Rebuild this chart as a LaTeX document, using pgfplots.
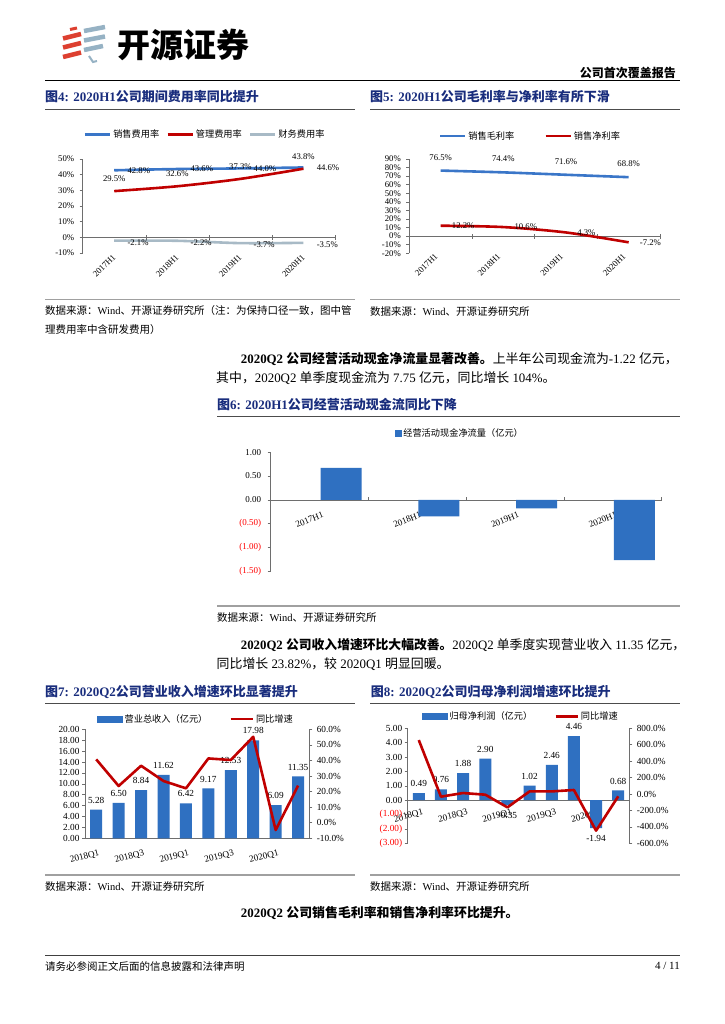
\documentclass[border=0pt]{standalone}
\usepackage{fontspec}
\setmainfont{Liberation Serif}
\newfontfamily\cjk{Noto Sans CJK SC}
\usepackage{pgfplots}
\pgfplotsset{compat=1.18}
\definecolor{navy}{RGB}{25,45,125}
\definecolor{barblue}{RGB}{47,112,193}
\definecolor{blueline}{RGB}{58,118,200}
\definecolor{linered}{RGB}{192,0,0}
\definecolor{lgray}{RGB}{168,186,198}
\definecolor{axgray}{RGB}{110,110,110}
\definecolor{rulegray}{RGB}{160,160,160}
\definecolor{logored}{RGB}{221,64,48}
\definecolor{logoblue}{RGB}{150,178,196}
\newcommand{\zh}[1]{{\cjk #1}}
\newcommand{\fs}[1]{\fontsize{#1}{#1}\selectfont}
\pgfplotsset{chart/.style={scale only axis, clip=false,
  axis line style={draw=axgray, line width=0.5pt},
  tick style={draw=axgray, line width=0.5pt},
  tick align=outside, major tick length=3pt,
  /pgf/number format/assume math mode=true,
  tick label style={font=\fs{8.7}},
  legend cell align=left,
  legend style={draw=none, fill=none, legend columns=-1, font=\cjk\fs{9.2}, inner sep=0pt, anchor=center}}}
\begin{document}
\begin{tikzpicture}
\path[use as bounding box, fill=white] (0,0) rectangle (724pt,-1024pt);
\begin{scope}[x=1pt,y=-1pt]
% logo
\draw[logored, line width=3pt] (70,29.5) -- (77,28);
\draw[logored, line width=4.5pt] (63,38.5) -- (81,34);
\draw[logored, line width=4.5pt] (63,47.5) -- (81,43);
\draw[logored, line width=4.5pt] (63,57) -- (81,52.5);
\draw[logoblue, line width=4.5pt] (84,31) -- (105,27);
\draw[logoblue, line width=4.5pt] (84,40.5) -- (105,36.5);
\draw[logoblue, line width=4.5pt] (84,50) -- (103,46);
\draw[logoblue, line width=2pt] (89,56) -- (93,62) -- (97,61);
\node[anchor=west, inner sep=0] at (117,45) {\cjk\bfseries\fs{33}开源证券};
\node[anchor=east, inner sep=0] at (676,73) {\cjk\bfseries\fs{12}公司首次覆盖报告};
\draw[black, line width=1.5pt] (45,80.5) -- (680,80.5);
% figure titles
\node[anchor=west, inner sep=0, text=navy] at (45,97) {\bfseries\fs{13}\zh{图}4: 2020H1\zh{公司期间费用率同比提升}};
\node[anchor=west, inner sep=0, text=navy] at (370,97) {\bfseries\fs{13}\zh{图}5: 2020H1\zh{公司毛利率与净利率有所下滑}};
\draw[black!70, line width=0.8pt] (45,109) -- (355,109);
\draw[black!70, line width=0.8pt] (370,109) -- (680,109);
% sources 1
\draw[rulegray, line width=1.6pt] (45,299.5) -- (355,299.5);
\draw[rulegray, line width=1.6pt] (370,299.5) -- (680,299.5);
\node[anchor=west, inner sep=0] at (45,311) {\fs{10.5}\zh{数据来源：}Wind\zh{、开源证券研究所（注：为保持口径一致，图中管}};
\node[anchor=west, inner sep=0] at (45,329.5) {\fs{10.5}\zh{理费用率中含研发费用）}};
\node[anchor=west, inner sep=0] at (370,311) {\fs{10.5}\zh{数据来源：}Wind\zh{、开源证券研究所}};
% paragraph 1
\node[anchor=west, inner sep=0] at (240.7,359) {\fs{12.9}\textbf{2020Q2 \zh{公司经营活动现金净流量显著改善。}}\zh{上半年公司现金流为}-1.22 \zh{亿元，}};
\node[anchor=west, inner sep=0] at (216,378.5) {\fs{12.9}\zh{其中，}2020Q2 \zh{单季度现金流为} 7.75 \zh{亿元，同比增长} 104\%\zh{。}};
% fig 6 title
\node[anchor=west, inner sep=0, text=navy] at (217,405) {\bfseries\fs{13}\zh{图}6: 2020H1\zh{公司经营活动现金流同比下降}};
\draw[black!70, line width=0.8pt] (217,416) -- (680,416);
\draw[rulegray, line width=1.6pt] (217,606) -- (680,606);
\node[anchor=west, inner sep=0] at (217,617.5) {\fs{10.5}\zh{数据来源：}Wind\zh{、开源证券研究所}};
% paragraph 2
\node[anchor=west, inner sep=0] at (240.7,645) {\fs{12.8}\textbf{2020Q2 \zh{公司收入增速环比大幅改善。}}2020Q2 \zh{单季度实现营业收入} 11.35 \zh{亿元，}};
\node[anchor=west, inner sep=0] at (216.5,664) {\fs{12.9}\zh{同比增长} 23.82\%\zh{，较} 2020Q1 \zh{明显回暖。}};
% fig 7/8 titles
\node[anchor=west, inner sep=0, text=navy] at (45,692) {\bfseries\fs{13}\zh{图}7: 2020Q2\zh{公司营业收入增速环比显著提升}};
\node[anchor=west, inner sep=0, text=navy] at (370.7,692) {\bfseries\fs{13}\zh{图}8: 2020Q2\zh{公司归母净利润增速环比提升}};
\draw[black!70, line width=0.8pt] (45,703.5) -- (355,703.5);
\draw[black!70, line width=0.8pt] (370,703.5) -- (680,703.5);
\draw[rulegray, line width=1.6pt] (45,875) -- (355,875);
\draw[rulegray, line width=1.6pt] (370,875) -- (680,875);
\node[anchor=west, inner sep=0] at (45,886) {\fs{10.5}\zh{数据来源：}Wind\zh{、开源证券研究所}};
\node[anchor=west, inner sep=0] at (370,886) {\fs{10.5}\zh{数据来源：}Wind\zh{、开源证券研究所}};
\node[anchor=west, inner sep=0] at (240.7,913) {\fs{12.9}\textbf{2020Q2 \zh{公司销售毛利率和销售净利率环比提升。}}};
% footer
\draw[black!75, line width=1.6pt] (45,955.5) -- (680,955.5);
\node[anchor=west, inner sep=0] at (45,966) {\fs{10.5}\zh{请务必参阅正文后面的信息披露和法律声明}};
\node[anchor=east, inner sep=0] at (680,966) {\fs{11}4 / 11};
\end{scope}

% ---------- Fig 4 ----------
\begin{axis}[chart, at={(82.7pt,-253pt)}, anchor=south west, width=252.3pt, height=94pt,
  xmin=-0.5, xmax=3.5, ymin=-10, ymax=50, ytick={-10,0,10,20,30,40,50},
  yticklabel={\pgfmathprintnumber{\tick}\%}, yticklabel style={xshift=-2pt},
  xtick={0,1,2,3}, xticklabels={2017H1,2018H1,2019H1,2020H1},
  axis x line*=bottom, axis y line*=left, x axis line style={draw=none}, xtick style={draw=none},
  xticklabel style={rotate=45, anchor=east, inner sep=0pt},
  legend style={at={(0.485,1.263)}, /tikz/every even column/.append style={column sep=5pt}}]
\draw[axgray, line width=0.5pt] (axis cs:-0.5,0) -- (axis cs:3.5,0);
\pgfplotsinvokeforeach{0.5,1.5,2.5,3.5}{\draw[axgray, line width=0.5pt] ([yshift=2pt]axis cs:#1,0) -- ([yshift=-3pt]axis cs:#1,0);}
\addplot[forget plot, blueline, line width=2.6pt, smooth, nodes near coords, point meta=explicit symbolic,
  every node near coord/.append style={anchor=west, inner sep=0pt, xshift=12pt, font=\fs{8.7}, text=black}]
  coordinates {(0,42.8)[42.8\%] (1,43.6)[43.6\%] (2,44.0)[44.0\%] (3,44.6)[44.6\%]};
\addplot[forget plot, linered, line width=2.6pt, smooth, nodes near coords, point meta=explicit symbolic,
  every node near coord/.append style={anchor=south, inner sep=0pt, yshift=8pt, font=\fs{8.7}, text=black}]
  coordinates {(0,29.5)[29.5\%] (1,32.6)[32.6\%] (2,37.3)[37.3\%] (3,43.8)[43.8\%]};
\addplot[forget plot, lgray, line width=2.6pt, smooth, nodes near coords, point meta=explicit symbolic,
  every node near coord/.append style={anchor=west, inner sep=0pt, xshift=12pt, yshift=-2pt, font=\fs{8.7}, text=black}]
  coordinates {(0,-2.1)[-2.1\%] (1,-2.2)[-2.2\%] (2,-3.7)[-3.7\%] (3,-3.5)[-3.5\%]};
\addlegendimage{legend image code/.code={\draw[blueline, line width=2.6pt] (0pt,0pt) -- (25pt,0pt);}}
\addlegendentry{销售费用率}
\addlegendimage{legend image code/.code={\draw[linered, line width=2.6pt] (0pt,0pt) -- (25pt,0pt);}}
\addlegendentry{管理费用率}
\addlegendimage{legend image code/.code={\draw[lgray, line width=2.6pt] (0pt,0pt) -- (25pt,0pt);}}
\addlegendentry{财务费用率}
\end{axis}

% ---------- Fig 5 ----------
\begin{axis}[chart, at={(409.3pt,-253.3pt)}, anchor=south west, width=250.7pt, height=94.3pt,
  xmin=-0.5, xmax=3.5, ymin=-20, ymax=90, ytick={-20,-10,0,10,20,30,40,50,60,70,80,90},
  yticklabel={\pgfmathprintnumber{\tick}\%}, yticklabel style={xshift=-2pt},
  xtick={0,1,2,3}, xticklabels={2017H1,2018H1,2019H1,2020H1},
  axis x line*=bottom, axis y line*=left, x axis line style={draw=none}, xtick style={draw=none},
  xticklabel style={rotate=45, anchor=east, inner sep=0pt, xshift=-2pt, yshift=4pt},
  legend style={at={(0.483,1.244)}, /tikz/every even column/.append style={column sep=28pt}}]
\draw[axgray, line width=0.5pt] (axis cs:-0.5,0) -- (axis cs:3.5,0);
\pgfplotsinvokeforeach{0.5,1.5,2.5,3.5}{\draw[axgray, line width=0.5pt] ([yshift=2pt]axis cs:#1,0) -- ([yshift=-3pt]axis cs:#1,0);}
\addplot[forget plot, blueline, line width=2.6pt, smooth, nodes near coords, point meta=explicit symbolic,
  every node near coord/.append style={anchor=south, inner sep=0pt, yshift=9pt, font=\fs{8.7}, text=black}]
  coordinates {(0,76.5)[76.5\%] (1,74.4)[74.4\%] (2,71.6)[71.6\%] (3,68.8)[68.8\%]};
\addplot[forget plot, linered, line width=2.6pt, smooth, nodes near coords, point meta=explicit symbolic,
  every node near coord/.append style={anchor=west, inner sep=0pt, xshift=10pt, font=\fs{8.7}, text=black}]
  coordinates {(0,12.2)[12.2\%] (1,10.6)[10.6\%] (2,4.3)[4.3\%] (3,-7.2)[-7.2\%]};
\addlegendimage{legend image code/.code={\draw[blueline, line width=2.6pt] (0pt,0pt) -- (25pt,0pt);}}
\addlegendentry{销售毛利率}
\addlegendimage{legend image code/.code={\draw[linered, line width=2.6pt] (0pt,0pt) -- (25pt,0pt);}}
\addlegendentry{销售净利率}
\end{axis}

% ---------- Fig 6 ----------
\begin{axis}[chart, at={(270.7pt,-571pt)}, anchor=south west, width=391pt, height=118.7pt,
  xmin=-0.5, xmax=3.5, ymin=-1.5, ymax=1, ytick={-1.5,-1,-0.5,0,0.5,1},
  yticklabels={\textcolor{red}{(1.50)},\textcolor{red}{(1.00)},\textcolor{red}{(0.50)},0.00,0.50,1.00},
  tick label style={font=\fs{9}}, yticklabel style={xshift=-3pt},
  axis x line*=middle, axis y line*=left, xtick={0,1,2,3}, xticklabels={2017H1,2018H1,2019H1,2020H1},
  xtick style={draw=none},
  xticklabel style={rotate=22, anchor=east, inner sep=0pt, xshift=-1pt, yshift=-12pt},
  ybar, bar width=41pt,
  legend style={at={(0.484,1.163)}}]
\pgfplotsinvokeforeach{0.5,1.5,2.5,3.5}{\draw[axgray, line width=0.5pt] (axis cs:#1,0) -- ([yshift=2.5pt]axis cs:#1,0);}
\addplot[forget plot, fill=barblue, draw=none] coordinates {(0,0.67) (1,-0.35) (2,-0.18) (3,-1.27)};
\addlegendimage{legend image code/.code={\fill[barblue] (0pt,-3pt) rectangle (6pt,3pt);}}
\addlegendentry{经营活动现金净流量（亿元）}
\end{axis}

% ---------- Fig 7 ----------
\begin{axis}[chart, at={(85pt,-838.3pt)}, anchor=south west, width=224.3pt, height=109pt,
  xmin=-0.5, xmax=9.5, ymin=0, ymax=20, ytick={0,2,4,6,8,10,12,14,16,18,20},
  yticklabel={\pgfmathprintnumber[fixed,fixed zerofill,precision=2]{\tick}},
  tick label style={font=\fs{9.3}}, yticklabel style={xshift=1pt},
  axis x line*=bottom, axis y line*=left, xtick={0,2,4,6,8},
  xticklabels={2018Q1,2018Q3,2019Q1,2019Q3,2020Q1}, xtick style={draw=none},
  xticklabel style={rotate=15, anchor=east, inner sep=0pt, yshift=-12pt},
  ybar, bar width=12pt]
\addplot[fill=barblue, draw=none, nodes near coords, point meta=explicit symbolic,
  every node near coord/.append style={anchor=south, inner sep=0pt, yshift=6pt, font=\fs{9.3}, text=black}]
  coordinates {(0,5.28)[5.28] (1,6.50)[6.50] (2,8.84)[8.84] (3,11.62)[11.62] (4,6.42)[6.42]
    (5,9.17)[9.17] (6,12.53)[12.53] (7,17.98)[17.98] (8,6.09)[6.09] (9,11.35)[11.35]};
\end{axis}
\begin{axis}[chart, at={(85pt,-838.3pt)}, anchor=south west, width=224.3pt, height=109pt,
  xmin=-0.5, xmax=9.5, ymin=-10, ymax=60, ytick={-10,0,10,20,30,40,50,60},
  yticklabel={\pgfmathprintnumber[fixed,fixed zerofill,precision=1]{\tick}\%},
  tick label style={font=\fs{9.3}}, yticklabel style={xshift=1pt},
  axis y line*=right, axis x line=none,
  legend style={at={(0.495,1.0945)}, /tikz/every even column/.append style={column sep=20pt}}]
\addlegendimage{legend image code/.code={\fill[barblue] (0pt,-3pt) rectangle (25pt,3pt);}}
\addlegendentry{营业总收入（亿元）}
\addlegendimage{legend image code/.code={\draw[linered, line width=2.6pt] (0pt,0pt) -- (22pt,0pt);}}
\addlegendentry{同比增速}
\addplot[forget plot, linered, line width=2.6pt, line join=round]
  coordinates {(0,40.7) (1,23.6) (2,36.6) (3,26.8) (4,22.1) (5,41.3) (6,40.3) (7,55.2) (8,-4.7) (9,23.82)};
\end{axis}

% ---------- Fig 8 ----------
\begin{axis}[chart, at={(407.7pt,-843.3pt)}, anchor=south west, width=221.6pt, height=115pt,
  xmin=-0.5, xmax=9.5, ymin=-3, ymax=5, ytick={-3,-2,-1,0,1,2,3,4,5},
  yticklabels={\textcolor{red}{(3.00)},\textcolor{red}{(2.00)},\textcolor{red}{(1.00)},0.00,1.00,2.00,3.00,4.00,5.00},
  tick label style={font=\fs{9.3}}, yticklabel style={xshift=1pt},
  axis x line*=middle, axis y line*=left, xtick={0,2,4,6,8},
  xticklabels={2018Q1,2018Q3,2019Q1,2019Q3,2020Q1}, xtick style={draw=none},
  xticklabel style={rotate=15, anchor=east, inner sep=0pt, xshift=2pt, yshift=-10pt},
  ybar, bar width=12pt, bar shift=0pt]
\addplot[fill=barblue, draw=none, nodes near coords, point meta=explicit symbolic,
  every node near coord/.append style={anchor=south, inner sep=0pt, yshift=6pt, font=\fs{9.3}, text=black}]
  coordinates {(0,0.49)[0.49] (1,0.76)[0.76] (2,1.88)[1.88] (3,2.90)[2.90] (5,1.02)[1.02]
    (6,2.46)[2.46] (7,4.46)[4.46] (9,0.68)[0.68]};
\addplot[fill=barblue, draw=none, nodes near coords, point meta=explicit symbolic,
  every node near coord/.append style={anchor=north, inner sep=0pt, yshift=-7pt, font=\fs{9.3}, text=black}]
  coordinates {(4,-0.35)[-0.35] (8,-1.94)[-1.94]};
\end{axis}
\begin{axis}[chart, at={(407.7pt,-843.3pt)}, anchor=south west, width=221.6pt, height=115pt,
  xmin=-0.5, xmax=9.5, ymin=-600, ymax=800, ytick={-600,-400,-200,0,200,400,600,800},
  yticklabel={\pgfmathprintnumber[fixed,fixed zerofill,precision=1]{\tick}\%},
  tick label style={font=\fs{9.3}}, yticklabel style={xshift=1pt},
  axis y line*=right, axis x line=none,
  legend style={at={(0.511,1.103)}, /tikz/every even column/.append style={column sep=20pt}}]
\addlegendimage{legend image code/.code={\fill[barblue] (0pt,-3pt) rectangle (25pt,3pt);}}
\addlegendentry{归母净利润（亿元）}
\addlegendimage{legend image code/.code={\draw[linered, line width=2.6pt] (0pt,0pt) -- (22pt,0pt);}}
\addlegendentry{同比增速}
\addplot[forget plot, linered, line width=2.6pt, line join=round]
  coordinates {(0,657) (1,-32) (2,12) (3,-8) (4,-162) (5,32) (6,32) (7,49) (8,-446) (9,-28)};
\end{axis}
\end{tikzpicture}
\end{document}
